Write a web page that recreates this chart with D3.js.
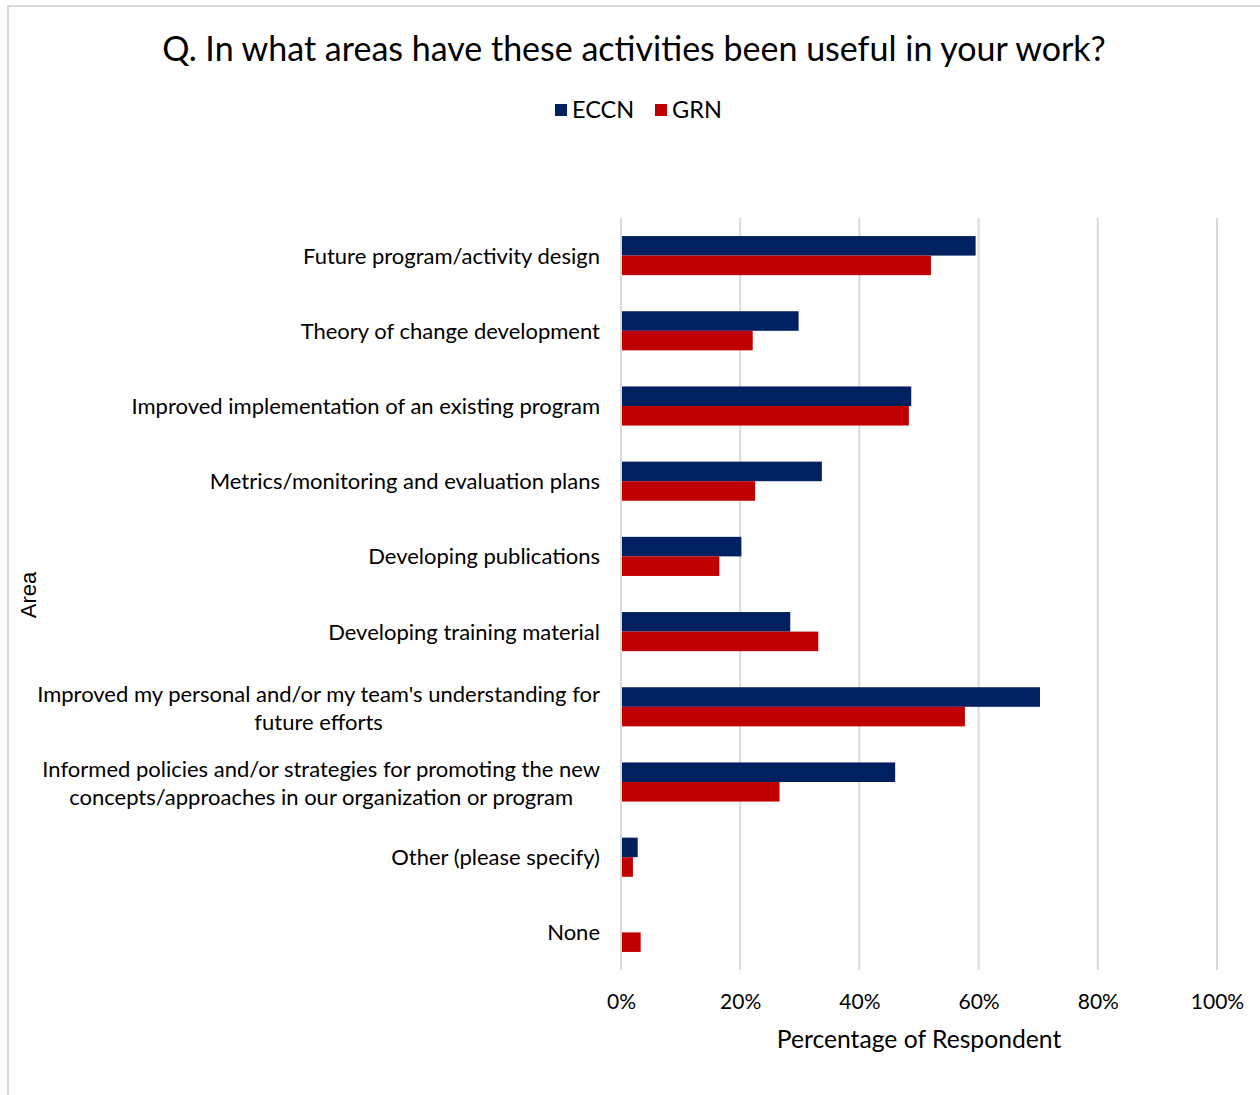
<!DOCTYPE html>
<html>
<head>
<meta charset="utf-8">
<script src="https://cdn.jsdelivr.net/npm/d3@7/dist/d3.min.js"></script>
<style>
  html, body { margin: 0; padding: 0; background: #fff; }
  svg { display: block; }
  .lbl { font-family: Lato, "Open Sans", sans-serif; fill: #000; }
</style>
</head>
<body>
<svg id="chart" width="1260" height="1095"></svg>
<script>
// Survey areas, top to bottom; "\n" marks a wrapped line
const categories = [
  "Future program/activity design",
  "Theory of change development",
  "Improved implementation of an existing program",
  "Metrics/monitoring and evaluation plans",
  "Developing publications",
  "Developing training material",
  "Improved my personal and/or my team's understanding for\nfuture efforts",
  "Informed policies and/or strategies for promoting the new\nconcepts/approaches in our organization or program",
  "Other (please specify)",
  "None"
];
const seriesNames = ["ECCN", "GRN"];
// Share of respondents (%)
const eccnValues = [59.5, 29.8, 48.7, 33.7, 20.2, 28.4, 70.3, 46.0, 2.8, 0];
const grnValues  = [52.0, 22.1, 48.3, 22.5, 16.5, 33.1, 57.7, 26.6, 2.0, 3.3];
const xTicks = [0, 20, 40, 60, 80, 100];
const colors = { ECCN: "#002060", GRN: "#C00000" };

const svg = d3.select("#chart");
const plot = { left: 621, right: 1217, top: 218, bottom: 970 };

// outer frame (only top and left edges fall inside the page)
svg.append("rect")
  .attr("x", 8).attr("y", 6).attr("width", 1300).attr("height", 1200)
  .attr("fill", "none").attr("stroke", "#d9d9d9").attr("stroke-width", 2);

const x = d3.scaleLinear().domain([0, 100]).range([plot.left, plot.right]);
const y = d3.scaleBand().domain(categories).range([plot.top, plot.bottom])
  .paddingInner(0.48).paddingOuter(0.24);
const ySub = d3.scaleBand().domain(seriesNames).range([0, y.bandwidth()]);

// vertical gridlines
svg.append("g").selectAll("line").data(xTicks).join("line")
  .attr("x1", d => x(d)).attr("x2", d => x(d))
  .attr("y1", plot.top).attr("y2", plot.bottom)
  .attr("stroke", "#d9d9d9").attr("stroke-width", 2);

// bars
const rows = categories.map((c, i) => ({ cat: c, ECCN: eccnValues[i], GRN: grnValues[i] }));
const groups = svg.append("g").selectAll("g").data(rows).join("g")
  .attr("transform", d => `translate(0,${y(d.cat)})`);
groups.selectAll("rect")
  .data(d => seriesNames.map(s => ({ s, v: d[s] })).filter(e => e.v > 0))
  .join("rect")
  .attr("x", x(0) + 1)
  .attr("y", d => ySub(d.s))
  .attr("width", d => x(d.v) - x(0) - 1)
  .attr("height", ySub.bandwidth())
  .attr("fill", d => colors[d.s]);

// x axis tick labels
const xAxis = d3.axisBottom(x).tickValues(xTicks).tickFormat(d => d + "%").tickSize(0).tickPadding(0);
const gx = svg.append("g").attr("transform", `translate(0,${plot.bottom})`).call(xAxis);
gx.select(".domain").remove();
gx.selectAll("text")
  .attr("class", "lbl").attr("y", 0).attr("dy", "39px")
  .style("font-size", "21px").attr("fill", "#000");

// category labels, right aligned; wrapped lines centred on each other
const catG = svg.append("g");
categories.forEach(c => {
  const lines = c.split("\n");
  const cy = y(c) + y.bandwidth() / 2;
  const lh = 28;
  const t = catG.append("text").attr("class", "lbl").style("font-size", "22px");
  lines.forEach((ln, k) => {
    t.append("tspan").attr("x", 0)
      .attr("y", cy + 8 + (lines.length > 1 ? 1 : 0) + (k - (lines.length - 1) / 2) * lh)
      .text(ln);
  });
  if (lines.length === 1) {
    t.attr("text-anchor", "end").selectAll("tspan").attr("x", 600);
  } else {
    const w = t.node().getBBox().width;
    t.attr("text-anchor", "middle").selectAll("tspan").attr("x", 600 - w / 2);
  }
});

// title
svg.append("text").attr("class", "lbl")
  .attr("x", 634).attr("y", 61).attr("text-anchor", "middle")
  .style("font-size", "34px")
  .text("Q. In what areas have these activities been useful in your work?");

// legend
const legend = svg.append("g");
const legendItems = [{ s: "ECCN", x: 555 }, { s: "GRN", x: 655 }];
legendItems.forEach(it => {
  legend.append("rect").attr("x", it.x).attr("y", 104).attr("width", 12).attr("height", 12)
    .attr("fill", colors[it.s]);
  legend.append("text").attr("class", "lbl")
    .attr("x", it.x + 17).attr("y", 118).style("font-size", "23.5px").text(it.s);
});

// axis titles
svg.append("text").attr("class", "lbl")
  .attr("x", (plot.left + plot.right) / 2).attr("y", 1048).attr("text-anchor", "middle")
  .style("font-size", "24.7px").text("Percentage of Respondent");
svg.append("text")
  .attr("transform", "translate(36,595) rotate(-90)")
  .attr("text-anchor", "middle")
  .style("font-family", '"Liberation Sans", Arial, sans-serif')
  .style("font-size", "22px").attr("fill", "#000")
  .text("Area");
</script>
</body>
</html>
